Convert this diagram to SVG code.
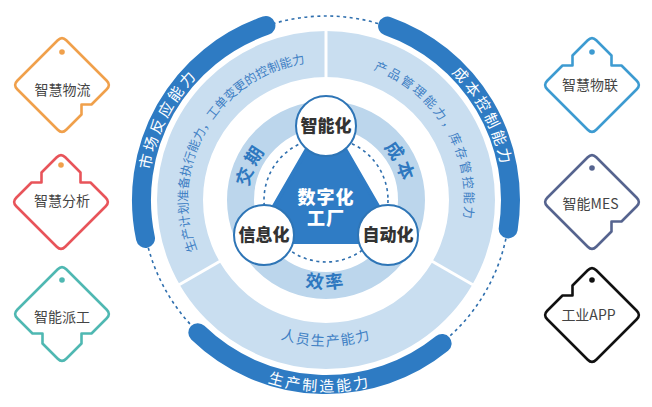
<svg xmlns="http://www.w3.org/2000/svg" width="652" height="407" viewBox="0 0 652 407">
<defs>
<style>
text { font-family: "Noto Sans CJK SC", "Noto Sans", sans-serif; }
.tag { fill: #fff; stroke-width: 2.6; stroke-linejoin: round; }
.tagt { font-size: 14px; fill: #444; text-anchor: middle; }
.arc { fill: none; stroke: #2e7bc3; stroke-width: 19; stroke-linecap: round; }
.arct { font-size: 15px; fill: #fff; letter-spacing: 3px; }
.ringt { font-size: 12.4px; fill: #3f80c4; }
.innt { font-size: 18px; font-weight: 700; fill: #2e78c0; letter-spacing: 3px; }
.node { fill: #fff; stroke: #2e75b6; stroke-width: 2; }
.nodet { font-size: 17px; font-weight: 900; fill: #333; text-anchor: middle; }
.ctr { font-size: 18px; font-weight: 900; fill: #fff; text-anchor: middle; letter-spacing: 1px; }
</style>
<path id="pL" d="M 156.2 255.2 A 178.5 178.5 0 0 1 270.8 30.2"/>
<path id="pR" d="M 378.2 29.3 A 178.5 178.5 0 0 1 496.7 252.2"/>
<path id="pB" d="M 185.9 330.6 A 191.5 191.5 0 0 0 456.6 340.1"/>
<path id="qL" d="M 246.6 313.5 A 138.5 138.5 0 0 1 384.5 74.5"/>
<path id="qR" d="M 277.0 70.4 A 138.5 138.5 0 0 1 416.3 305.0"/>
<path id="qB" d="M 222.8 303.2 A 146 146 0 0 0 429.2 303.2"/>
<path id="iL" d="M 252.7 226.7 A 78 78 0 0 1 299.3 126.7"/>
<path id="iR" d="M 350.1 125.8 A 78 78 0 0 1 400.2 224.1"/>
<path id="iB" d="M 263.4 262.6 A 88.5 88.5 0 0 0 388.6 262.6"/>
</defs>
<rect width="652" height="407" fill="#fff"/>

<g id="rings">
  <circle cx="326" cy="200" r="146" fill="none" stroke="#c9def0" stroke-width="46"/>
  <g stroke="#fff" stroke-width="3">
    <line x1="326" y1="80" x2="326" y2="28"/>
    <line x1="222.1" y1="260" x2="177" y2="286"/>
    <line x1="429.9" y1="260" x2="475" y2="286"/>
  </g>
  <circle cx="326" cy="200" r="85.5" fill="none" stroke="#bcd6ec" stroke-width="27"/>
</g>

<g id="connectors">
  <circle cx="326" cy="200" r="184" fill="none" stroke="#2f6fae" stroke-width="1.6" stroke-dasharray="3 3.5"/>
  <circle cx="326" cy="200" r="62" fill="none" stroke="#2f6fae" stroke-width="1.6" stroke-dasharray="3 3.5"/>
</g>

<g id="arc-market">
  <path class="arc" d="M 145.5 238.4 A 184.5 184.5 0 0 1 265.9 25.6"/>
  <text class="arct"><textPath href="#pL" startOffset="50%" text-anchor="middle">市场反应能力</textPath></text>
</g>
<g id="arc-cost">
  <path class="arc" d="M 387.6 26.1 A 184.5 184.5 0 0 1 508.2 228.9"/>
  <text class="arct"><textPath href="#pR" startOffset="50%" text-anchor="middle">成本控制能力</textPath></text>
</g>
<g id="arc-prod">
  <path class="arc" d="M 197.8 332.7 A 184.5 184.5 0 0 0 442.1 343.4"/>
  <text class="arct" style="letter-spacing:2.5px"><textPath href="#pB" startOffset="50%" text-anchor="middle">生产制造能力</textPath></text>
</g>

<g id="ring-texts">
  <text class="ringt"><textPath href="#qL" startOffset="50%" text-anchor="middle">生产计划准备执行能力，工单变更的控制能力</textPath></text>
  <text class="ringt" style="letter-spacing:2.2px"><textPath href="#qR" startOffset="50%" text-anchor="middle">产品管理能力，库存管控能力</textPath></text>
  <text class="ringt" style="font-size:14px;letter-spacing:1.4px"><textPath href="#qB" startOffset="50%" text-anchor="middle">人员生产能力</textPath></text>
  <text class="innt"><textPath href="#iL" startOffset="50%" text-anchor="middle">交期</textPath></text>
  <text class="innt"><textPath href="#iR" startOffset="50%" text-anchor="middle">成本</textPath></text>
  <text class="innt"><textPath href="#iB" startOffset="50%" text-anchor="middle">效率</textPath></text>
</g>

<g id="factory">
  <polygon points="326,116 253.3,242 398.7,242" fill="#2f7cc5" stroke="#2f7cc5" stroke-width="4" stroke-linejoin="round"/>
  <text class="ctr" x="326" y="204">数字化</text>
  <text class="ctr" x="326" y="225">工厂</text>
</g>
<g id="node-intel">
  <circle class="node" cx="326" cy="126" r="30"/>
  <text class="nodet" x="326" y="132">智能化</text>
</g>
<g id="node-info">
  <circle class="node" cx="264" cy="235" r="30"/>
  <text class="nodet" x="264" y="241">信息化</text>
</g>
<g id="node-auto">
  <circle class="node" cx="388" cy="235" r="30"/>
  <text class="nodet" x="388" y="241">自动化</text>
</g>

<g id="tag-logistics">
  <path class="tag" stroke="#f0a04b" transform="translate(62,85)" d="M -4.24 -44.76 Q 0 -49 4.24 -44.76 L 44.76 -4.24 Q 49 0 44.76 4.24 L 29.5 19.5 L 19.5 19.5 L 19.5 29.5 L 4.24 44.76 Q 0 49 -4.24 44.76 L -44.76 4.24 Q -49 0 -44.76 -4.24 Z"/>
  <circle cx="62" cy="52" r="2.8" fill="#f0a04b"/>
  <text class="tagt" x="62.5" y="95">智慧物流</text>
</g>
<g id="tag-analysis">
  <path class="tag" stroke="#e8545a" transform="translate(61,202)" d="M -4.24 -44.76 Q 0 -49 4.24 -44.76 L 19.5 -29.5 L 19.5 -19.5 L 29.5 -19.5 L 44.76 -4.24 Q 49 0 44.76 4.24 L 4.24 44.76 Q 0 49 -4.24 44.76 L -44.76 4.24 Q -49 0 -44.76 -4.24 L -29.5 -19.5 L -19.5 -19.5 L -19.5 -29.5 Z"/>
  <circle cx="61" cy="165" r="2.8" fill="#f0a04b"/>
  <text class="tagt" x="62" y="206">智慧分析</text>
</g>
<g id="tag-dispatch">
  <path class="tag" stroke="#4fb8b2" transform="translate(62,314)" d="M -4.24 -44.76 Q 0 -49 4.24 -44.76 L 44.76 -4.24 Q 49 0 44.76 4.24 L 29.5 19.5 L 19.5 19.5 L 19.5 29.5 L 4.24 44.76 Q 0 49 -4.24 44.76 L -19.5 29.5 L -19.5 19.5 L -29.5 19.5 L -44.76 4.24 Q -49 0 -44.76 -4.24 Z"/>
  <circle cx="62" cy="280" r="2.8" fill="#4fb8b2"/>
  <text class="tagt" x="62" y="322">智能派工</text>
</g>
<g id="tag-iot">
  <path class="tag" stroke="#3d9bd1" transform="translate(592,85)" d="M -4.24 -44.76 Q 0 -49 4.24 -44.76 L 19.5 -29.5 L 19.5 -19.5 L 29.5 -19.5 L 44.76 -4.24 Q 49 0 44.76 4.24 L 4.24 44.76 Q 0 49 -4.24 44.76 L -44.76 4.24 Q -49 0 -44.76 -4.24 L -29.5 -19.5 L -19.5 -19.5 L -19.5 -29.5 Z"/>
  <circle cx="592" cy="52" r="2.8" fill="#3d9bd1"/>
  <text class="tagt" x="590" y="90">智慧物联</text>
</g>
<g id="tag-mes">
  <path class="tag" stroke="#56648f" transform="translate(592,202)" d="M -4.24 -44.76 Q 0 -49 4.24 -44.76 L 44.76 -4.24 Q 49 0 44.76 4.24 L 29.5 19.5 L 19.5 19.5 L 19.5 29.5 L 4.24 44.76 Q 0 49 -4.24 44.76 L -44.76 4.24 Q -49 0 -44.76 -4.24 Z"/>
  <circle cx="592" cy="168" r="2.8" fill="#56648f"/>
  <text class="tagt" x="590.5" y="208.5">智能MES</text>
</g>
<g id="tag-app">
  <path class="tag" stroke="#111" transform="translate(592,315)" d="M -4.24 -44.76 Q 0 -49 4.24 -44.76 L 44.76 -4.24 Q 49 0 44.76 4.24 L 4.24 44.76 Q 0 49 -4.24 44.76 L -44.76 4.24 Q -49 0 -44.76 -4.24 L -29.5 -19.5 L -19.5 -19.5 L -19.5 -29.5 Z"/>
  <circle cx="592" cy="280" r="2.8" fill="#111"/>
  <text class="tagt" x="588.5" y="320">工业APP</text>
</g>
</svg>
